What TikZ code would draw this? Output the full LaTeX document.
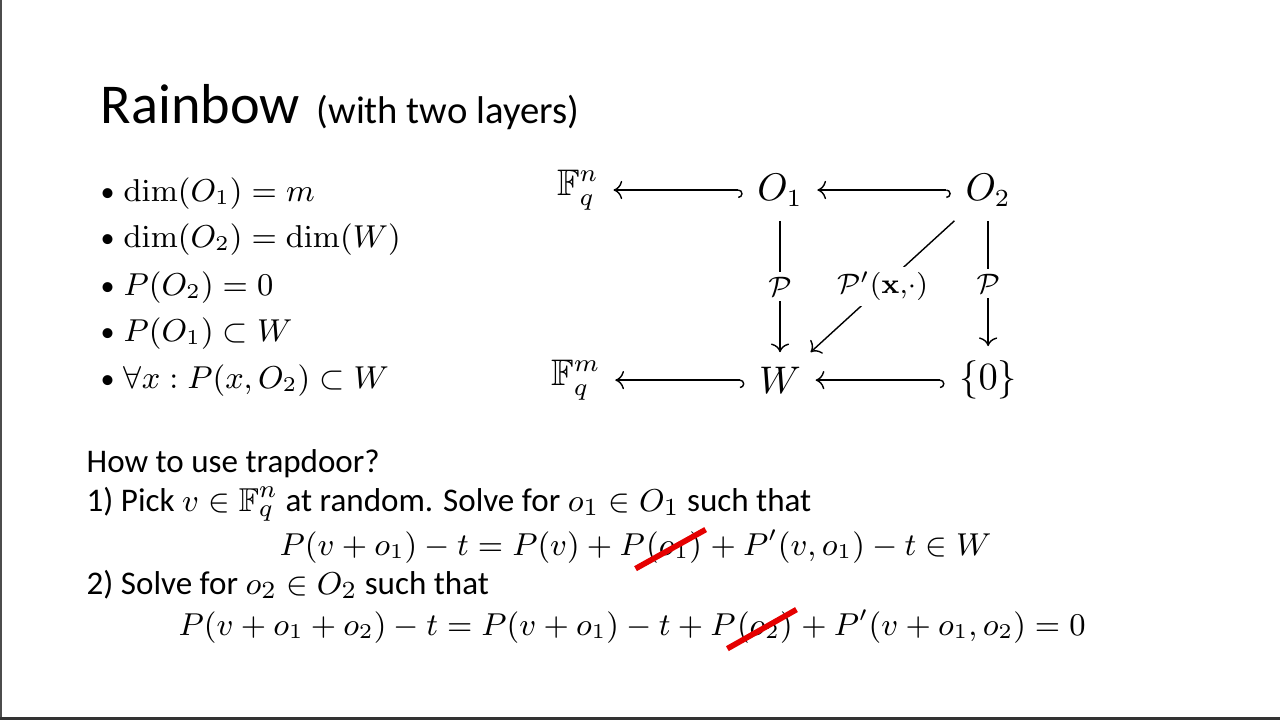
\documentclass[tikz,border=0pt]{standalone}
\usepackage{amsmath}
\usepackage{amssymb}
\usepackage[no-math]{fontspec}
\setmainfont{Carlito}
\usetikzlibrary{positioning,arrows.meta}
\newcommand{\Fq}{\mathbb{F}_q}
\newcommand{\Pc}{\mathcal{P}}

\tikzset{
  titletext/.style={anchor=base west, inner sep=0pt, font=\fontsize{16}{19}\selectfont},
  subtitle/.style={anchor=base west, inner sep=0pt, font=\fontsize{11}{13}\selectfont},
  slidetext/.style={anchor=base west, inner sep=0pt, font=\fontsize{9.4}{11.5}\selectfont},
  mathtext/.style={anchor=base west, inner sep=0pt, font=\fontsize{9}{11}\selectfont},
  bulletmark/.style={anchor=base west, inner sep=0pt, font=\fontsize{8}{10}\selectfont},
  space/.style={inner sep=4pt, font=\fontsize{10.5}{12.5}\selectfont},
  incl/.style={{Hooks[right]}-{Computer Modern Rightarrow}, line width=0.4pt},
  map/.style={-{Computer Modern Rightarrow}, line width=0.4pt},
  maplabel/.style={fill=white, inner sep=1.5pt, font=\fontsize{12}{14}\selectfont},
  strike/.style={red!90!black, line width=1.6pt},
}

\begin{document}
\begin{tikzpicture}[x=0.01cm, y=-0.01cm, node distance=2cm, on grid]
  \useasboundingbox (0,0) rectangle (1280,720);
  \fill[white] (0,0) rectangle (1280,720);
  % slide frame
  \fill[black!70] (0,0) rectangle (2,720);
  \fill[black!80] (0,717) rectangle (1280,720);

  % title
  \node[titletext] (title) at (100,123) {Rainbow};
  \node[subtitle] (subtitle) at (316,123) {(with two layers)};

  % properties
  \foreach \y/\txt [count=\i] in {201/{$\dim(O_1) = m$},
                                  247/{$\dim(O_2) = \dim(W)$},
                                  295/{$P(O_2) = 0$},
                                  341/{$P(O_1) \subset W$},
                                  388/{$\forall x : P(x, O_2) \subset W$}} {
    \node[bulletmark] (b\i) at (100,\y) {\textbullet};
    \node[mathtext] (p\i) at (123,\y) {\txt};
  }

  % diagram
  \node[space] (O1) at (780,190) {$O_1$};
  \node[space, right=2.08cm of O1] (O2) {$O_2$};
  \node[space, left=2.02cm of O1] (Fn) {$\Fq^n$};
  \node[space, below=1.9cm of O1] (W) {$W$};
  \node[space, right=2.08cm of W] (Z) {$\{0\}$};
  \node[space, left=2.04cm of W] (Fm) {$\Fq^m$};
  \draw[incl] (O1) -- (Fn);
  \draw[incl] (O2) -- (O1);
  \draw[incl] (W) -- (Fm);
  \draw[incl] (Z) -- (W);
  \draw[map] (O1) -- node[maplabel] {$\scriptstyle\Pc$} (W);
  \draw[map] (O2) -- node[maplabel] {$\scriptstyle\Pc$} (Z);
  \draw[map] (O2) -- node[maplabel] {$\scriptstyle\Pc'(\mathbf{x},\cdot)$} (W);

  % trapdoor
  \node[slidetext] (q) at (86,472) {How to use trapdoor?};
  \node[slidetext] (s1) at (86,511) {1) Pick $v \in \Fq^n$ at random. Solve for $o_1 \in O_1$ such that};
  \node[mathtext] (e1a) at (279,555) {$P(v + o_1) - t = P(v) + {}P$};
  \node[mathtext, right=0pt of e1a.base east, anchor=base west] (e1b) {$(o_1)$};
  \node[mathtext, right=0pt of e1b.base east, anchor=base west] (e1c) {${}+ P'(v, o_1) - t \in W$};
  \node[slidetext] (s2) at (86,594) {2) Solve for $o_2 \in O_2$ such that};
  \node[mathtext] (e2a) at (178,635) {$P(v + o_1 + o_2) - t = P(v + o_1) - t + {}P$};
  \node[mathtext, right=0pt of e2a.base east, anchor=base west] (e2b) {$(o_2)$};
  \node[mathtext, right=0pt of e2b.base east, anchor=base west] (e2c) {${}+ P'(v + o_1, o_2) = 0$};
  % crossed-out terms
  \draw[strike] ([shift={(-10,5)}]e1b.south west) -- ([shift={(3,-1)}]e1b.north east);
  \draw[strike] ([shift={(-9,5)}]e2b.south west) -- ([shift={(3,-1)}]e2b.north east);
\end{tikzpicture}
\end{document}
